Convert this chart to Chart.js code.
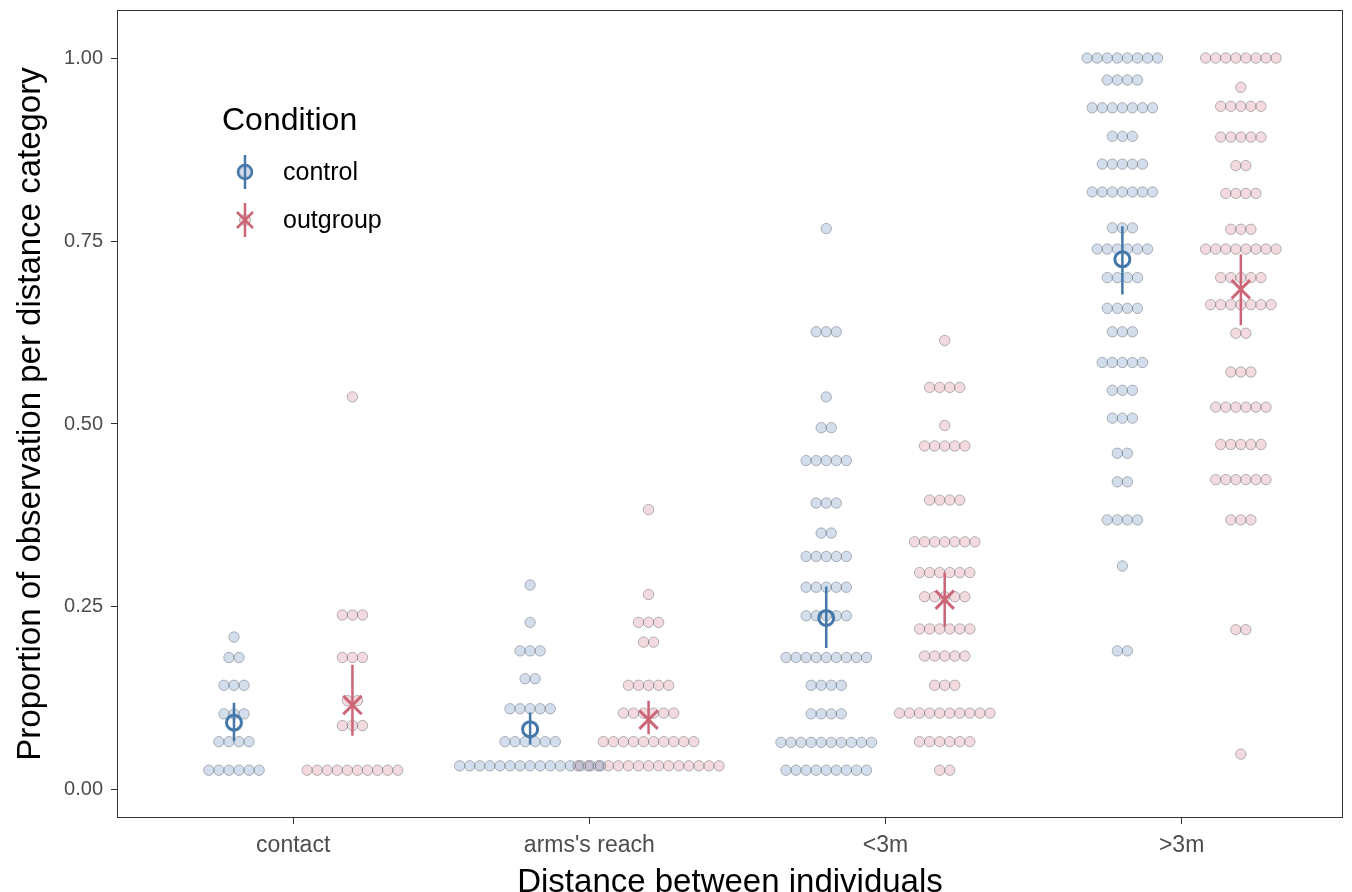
<!DOCTYPE html>
<html>
<head>
<meta charset="utf-8">
<script src="https://cdn.jsdelivr.net/npm/chart.js@4.4.1/dist/chart.umd.min.js"></script>
<style>
html, body { margin: 0; padding: 0; background: #fff; }
</style>
</head>
<body>
<canvas id="dotChart" width="1352" height="892"></canvas>
<script>
// Categories and tick labels
const categories = ['contact', "arms's reach", '<3m', '>3m'];
const yTicks = [0, 0.25, 0.5, 0.75, 1];

// Dot rows per category: [proportion, number of dots in that row]
const controlBins = [
    [[0.209, 1], [0.181, 2], [0.143, 3], [0.104, 3], [0.066, 4], [0.027, 6]],
    [[0.280, 1], [0.229, 1], [0.190, 3], [0.152, 2], [0.111, 5], [0.066, 6], [0.033, 15]],
    [[0.767, 1], [0.626, 3], [0.537, 1], [0.495, 2], [0.450, 5], [0.392, 3], [0.351, 2], [0.319, 5],
     [0.277, 5], [0.238, 5], [0.181, 9], [0.143, 4], [0.104, 4], [0.065, 10], [0.027, 9]],
    [[1.000, 8], [0.970, 4], [0.932, 7], [0.893, 3], [0.855, 5], [0.817, 7], [0.768, 3], [0.739, 6],
     [0.700, 4], [0.658, 4], [0.626, 3], [0.584, 5], [0.546, 3], [0.508, 3], [0.460, 2], [0.421, 2],
     [0.369, 4], [0.306, 1], [0.190, 2]]
];
const outgroupBins = [
    [[0.537, 1], [0.239, 3], [0.181, 3], [0.122, 2], [0.088, 3], [0.027, 10]],
    [[0.383, 1], [0.267, 1], [0.229, 3], [0.202, 2], [0.143, 5], [0.105, 6], [0.066, 10], [0.033, 15]],
    [[0.614, 1], [0.550, 4], [0.498, 1], [0.470, 5], [0.396, 4], [0.339, 7], [0.297, 6], [0.264, 5],
     [0.220, 6], [0.183, 5], [0.143, 3], [0.105, 10], [0.066, 6], [0.027, 2]],
    [[1.000, 8], [0.960, 1], [0.934, 5], [0.892, 5], [0.853, 2], [0.815, 4], [0.766, 3], [0.739, 8],
     [0.700, 5], [0.663, 7], [0.624, 2], [0.571, 3], [0.523, 6], [0.472, 5], [0.424, 6], [0.369, 3],
     [0.219, 2], [0.049, 1]]
];

// Means with error bars
const controlMean = [0.092, 0.083, 0.235, 0.725];
const controlLow = [0.067, 0.062, 0.194, 0.677];
const controlHigh = [0.119, 0.106, 0.278, 0.770];
const outgroupMean = [0.116, 0.096, 0.260, 0.684];
const outgroupLow = [0.074, 0.076, 0.223, 0.635];
const outgroupHigh = [0.171, 0.122, 0.297, 0.732];

const dodge = 0.2;
const dotStep = 0.034;
const controlColor = '#4477AA';
const outgroupColor = '#CC6677';
const controlDot = 'rgba(68,119,170,0.24)';
const outgroupDot = 'rgba(204,102,119,0.24)';
const dotEdge = 'rgba(95,100,110,0.45)';
const fontFamily = '"Liberation Sans", Arial, sans-serif';

// Lay out each row of dots side by side around its group position
function dotPoints(bins, side) {
    const pts = [];
    bins.forEach((rows, i) => {
        const centre = i + 1 + side * dodge;
        rows.forEach(([value, count]) => {
            for (let k = 0; k < count; k++) {
                pts.push({ x: centre + (k - (count - 1) / 2) * dotStep, y: value });
            }
        });
    });
    return pts;
}

function meanPoints(means, side) {
    return means.map((m, i) => ({ x: i + 1 + side * dodge, y: m }));
}

// Vertical segments, separated by gaps
function barPoints(low, high, side) {
    const pts = [];
    low.forEach((lo, i) => {
        const x = i + 1 + side * dodge;
        pts.push({ x: x, y: lo }, { x: x, y: high[i] }, { x: x, y: null });
    });
    return pts;
}

// Panel border and the legend inside the plot
const panelPlugin = {
    id: 'panel',
    afterDraw(chart) {
        const ctx = chart.ctx;
        const a = chart.chartArea;
        ctx.save();
        ctx.strokeStyle = '#333333';
        ctx.lineWidth = 1;
        ctx.strokeRect(a.left + 0.5, a.top + 0.5, a.right - a.left - 1, a.bottom - a.top - 1);

        ctx.fillStyle = '#000';
        ctx.font = '32px ' + fontFamily;
        ctx.textBaseline = 'middle';
        ctx.fillText('Condition', 222, 121);

        const items = [
            { label: 'control', color: controlColor, dot: controlDot, y: 172, shape: 'circle' },
            { label: 'outgroup', color: outgroupColor, dot: outgroupDot, y: 220, shape: 'cross' }
        ];
        items.forEach(it => {
            const x = 245;
            ctx.beginPath();
            ctx.arc(x, it.y, 5.5, 0, Math.PI * 2);
            ctx.fillStyle = it.dot;
            ctx.fill();
            ctx.strokeStyle = dotEdge;
            ctx.lineWidth = 1;
            ctx.stroke();

            ctx.strokeStyle = it.color;
            ctx.lineWidth = 2.5;
            ctx.beginPath();
            ctx.moveTo(x, it.y - 17);
            ctx.lineTo(x, it.y + 17);
            ctx.stroke();
            ctx.beginPath();
            if (it.shape === 'circle') {
                ctx.arc(x, it.y, 7, 0, Math.PI * 2);
            } else {
                ctx.moveTo(x - 8, it.y - 8); ctx.lineTo(x + 8, it.y + 8);
                ctx.moveTo(x + 8, it.y - 8); ctx.lineTo(x - 8, it.y + 8);
            }
            ctx.stroke();

            ctx.fillStyle = '#000';
            ctx.font = '25px ' + fontFamily;
            ctx.fillText(it.label, 283, it.y + 1);
        });
        ctx.restore();
    }
};

const ctx = document.getElementById('dotChart').getContext('2d');
const dotChart = new Chart(ctx, {
    type: 'scatter',
    data: {
        datasets: [
            {
                label: 'control mean',
                data: meanPoints(controlMean, -1),
                pointStyle: 'circle',
                pointRadius: 7.5,
                borderColor: controlColor,
                backgroundColor: 'rgba(0,0,0,0)',
                borderWidth: 3
            },
            {
                label: 'outgroup mean',
                data: meanPoints(outgroupMean, 1),
                pointStyle: 'crossRot',
                pointRadius: 13,
                borderColor: outgroupColor,
                borderWidth: 3
            },
            {
                label: 'control ci',
                data: barPoints(controlLow, controlHigh, -1),
                showLine: true,
                spanGaps: false,
                pointRadius: 0,
                borderColor: controlColor,
                borderWidth: 2.5
            },
            {
                label: 'outgroup ci',
                data: barPoints(outgroupLow, outgroupHigh, 1),
                showLine: true,
                spanGaps: false,
                pointRadius: 0,
                borderColor: outgroupColor,
                borderWidth: 2.5
            },
            {
                label: 'control',
                data: dotPoints(controlBins, -1),
                pointRadius: 5.2,
                backgroundColor: controlDot,
                borderColor: dotEdge,
                borderWidth: 1
            },
            {
                label: 'outgroup',
                data: dotPoints(outgroupBins, 1),
                pointRadius: 5.2,
                backgroundColor: outgroupDot,
                borderColor: dotEdge,
                borderWidth: 1
            }
        ]
    },
    options: {
        responsive: false,
        animation: false,
        devicePixelRatio: 1,
        layout: { autoPadding: false, padding: { top: 10, right: 9, left: 0, bottom: 0 } },
        plugins: {
            legend: { display: false },
            tooltip: { enabled: false }
        },
        scales: {
            x: {
                type: 'linear',
                min: 0.405,
                max: 4.545,
                afterBuildTicks: scale => { scale.ticks = categories.map((c, i) => ({ value: i + 1 })); },
                afterFit: scale => {
                    scale.height = 74;
                    scale.paddingLeft = 0;
                    scale.paddingRight = 0;
                },
                ticks: {
                    callback: v => categories[v - 1],
                    color: '#4d4d4d',
                    font: { size: 23, family: fontFamily },
                    padding: 8,
                    maxRotation: 0
                },
                grid: { drawOnChartArea: false, tickLength: 6, color: '#333333', tickColor: '#333333' },
                border: { display: false },
                title: {
                    display: true,
                    text: 'Distance between individuals',
                    color: '#000',
                    font: { size: 33, family: fontFamily },
                    padding: { top: 0, bottom: -11 }
                }
            },
            y: {
                min: -0.0383,
                max: 1.0656,
                afterBuildTicks: scale => { scale.ticks = yTicks.map(v => ({ value: v })); },
                afterFit: scale => {
                    scale.width = 117;
                    scale.paddingTop = 0;
                    scale.paddingBottom = 0;
                },
                ticks: {
                    callback: v => v.toFixed(2),
                    color: '#4d4d4d',
                    font: { size: 20, family: fontFamily },
                    padding: 8
                },
                grid: { drawOnChartArea: false, tickLength: 6, color: '#333333', tickColor: '#333333' },
                border: { display: false },
                title: {
                    display: true,
                    text: 'Proportion of observation per distance category',
                    color: '#000',
                    font: { size: 33, family: fontFamily },
                    padding: { top: 11, bottom: 0 }
                }
            }
        }
    },
    plugins: [panelPlugin]
});
</script>
</body>
</html>
